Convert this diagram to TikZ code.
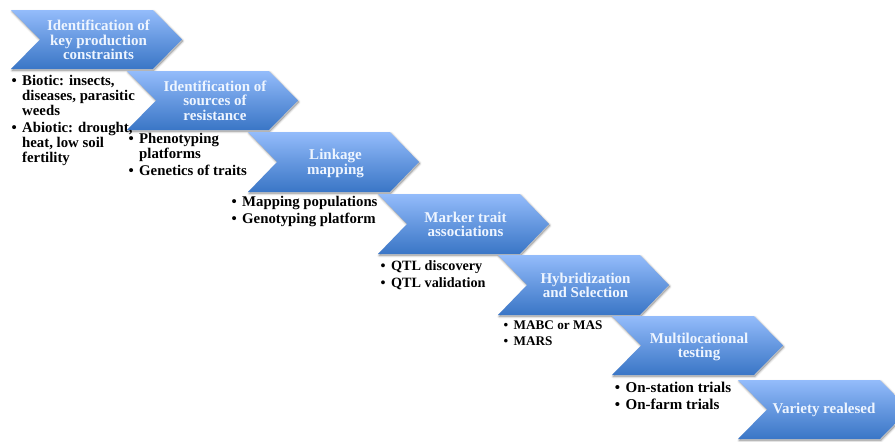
\documentclass[tikz,border=0pt]{standalone}
\usepackage{fontspec}
\setmainfont{Liberation Serif}
\definecolor{ctop}{HTML}{94BCFB}
\definecolor{cbot}{HTML}{3A76C6}
\definecolor{ctext}{HTML}{EEF5FF}
\tikzset{
  chevtext/.style={font=\fontsize{15pt}{14.7pt}\selectfont\bfseries,text=ctext,align=center,inner sep=0pt},
  listtext/.style={font=\fontsize{14.8pt}{15pt}\selectfont\bfseries,text=black,align=left,anchor=north west,inner sep=0pt}
}
% #1 left, #2 top, #3 bottom
\newcommand{\chev}[3]{%
  \pgfmathsetmacro{\hh}{(#3-#2)/2}%
  \pgfmathsetmacro{\mm}{(#3+#2)/2}%
  \pgfmathsetmacro{\nx}{#1+29}%
  \pgfmathsetmacro{\rx}{#1+142}%
  \pgfmathsetmacro{\tx}{#1+171}%
  \foreach \k/\o in {4/.03,3/.04,2/.05,1/.06}{%
    \fill[black,opacity=\o,line width=\k pt,draw=black,draw opacity=\o,line join=round,xshift=1pt,yshift=-1.5pt]
      (#1,#2)--(\rx,#2)--(\tx,\mm)--(\rx,#3)--(#1,#3)--(\nx,\mm)--cycle;}%
  \shade[top color=ctop,bottom color=cbot,middle color=ctop!48!cbot]
    (#1,#2)--(\rx,#2)--(\tx,\mm)--(\rx,#3)--(#1,#3)--(\nx,\mm)--cycle;%
}
\newcommand{\bul}{\llap{•\hspace{5.5pt}}}
\begin{document}
\begin{tikzpicture}[x=1pt,y=-1pt]
\useasboundingbox (0,0) rectangle (895,442);
\clip (0,0) rectangle (895,442);
\fill[white] (0,0) rectangle (895,442);
\chev{11}{10}{69}
\chev{127}{71}{130}
\chev{248}{132}{192}
\chev{378}{194}{254}
\chev{498}{255}{315}
\chev{612}{316}{375}
\chev{738}{380}{439}
\node[chevtext] (c1) at (98.5,40) {Identification of\\key production\\constraints};
\node[chevtext] (c2) at (215,100.5) {Identification of\\sources of\\resistance};
\node[chevtext] (c3) at (335.5,163.5) {Linkage\\mapping};
\node[chevtext] (c4) at (465.5,224.5) {Marker trait\\associations};
\node[chevtext] (c5) at (585.5,285.5) {Hybridization\\and Selection};
\node[chevtext] (c6) at (699,347) {Multilocational\\testing};
\node[chevtext] (c7) at (824,409.5) {Variety realesed};
\node[listtext] (l1) at (22,75) {\bul Biotic: insects,\\diseases, parasitic\\weeds\\[2pt]\bul Abiotic: drought,\\heat, low soil\\fertility};
\node[listtext] (l2) at (139,133) {\bul Phenotyping\\platforms\\[2.5pt]\bul Genetics of traits};
\node[listtext] (l3) at (242,196.5) {\bul Mapping populations\\[1.5pt]\bul Genotyping platform};
\node[listtext,font=\fontsize{14.2pt}{15pt}\selectfont\bfseries] (l4) at (391,260) {\bul QTL discovery\\[2pt]\bul QTL validation};
\node[listtext,font=\fontsize{13.2pt}{15pt}\selectfont\bfseries] (l5) at (513.5,321) {\bul MABC or MAS\\[1pt]\bul MARS};
\node[listtext,font=\fontsize{15pt}{15pt}\selectfont\bfseries] (l6) at (625.5,382) {\bul On-station trials\\[2pt]\bul On-farm trials};
\end{tikzpicture}
\end{document}
